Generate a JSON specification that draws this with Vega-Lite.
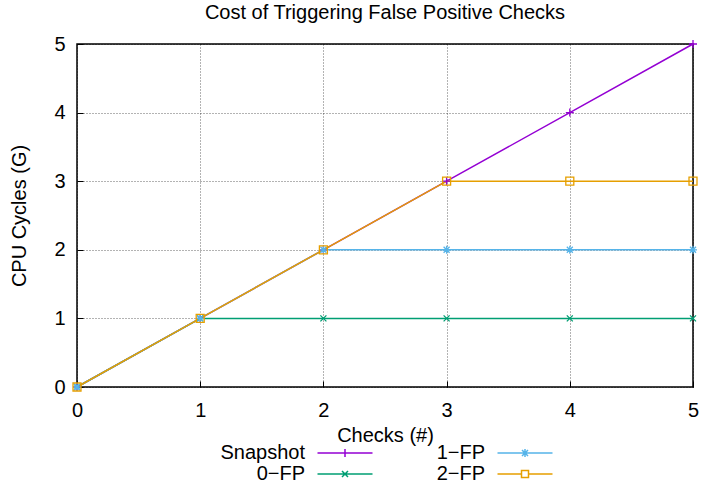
{
  "$schema": "https://vega.github.io/schema/vega-lite/v6.json",
  "width": 616,
  "height": 343,
  "autosize": {"type": "none"},
  "padding": {"left": 77, "top": 44, "right": 24, "bottom": 97},
  "background": "white",
  "title": {"text": "Cost of Triggering False Positive Checks", "fontSize": 20, "fontWeight": "normal", "font": "Liberation Sans", "offset": 11, "color": "#000"},
  "config": {
    "font": "Liberation Sans",
    "view": {"stroke": "#000", "strokeWidth": 1.5},
    "axis": {
      "domain": false,
      "grid": true,
      "gridDash": [1, 2],
      "gridColor": "#000",
      "gridOpacity": 0.6,
      "tickColor": "#000",
      "tickSize": -6,
      "tickWidth": 1,
      "labelFontSize": 20,
      "labelColor": "#000",
      "titleFontSize": 20,
      "titleFontWeight": "normal",
      "titleColor": "#000"
    }
  },
  "data": {"values": [
    {"x": 0, "y": 0, "series": "Snapshot"},
    {"x": 1, "y": 1, "series": "Snapshot"},
    {"x": 2, "y": 2, "series": "Snapshot"},
    {"x": 3, "y": 3, "series": "Snapshot"},
    {"x": 4, "y": 4, "series": "Snapshot"},
    {"x": 5, "y": 5, "series": "Snapshot"},
    {"x": 0, "y": 0, "series": "0-FP"},
    {"x": 1, "y": 1, "series": "0-FP"},
    {"x": 2, "y": 1, "series": "0-FP"},
    {"x": 3, "y": 1, "series": "0-FP"},
    {"x": 4, "y": 1, "series": "0-FP"},
    {"x": 5, "y": 1, "series": "0-FP"},
    {"x": 0, "y": 0, "series": "1-FP"},
    {"x": 1, "y": 1, "series": "1-FP"},
    {"x": 2, "y": 2, "series": "1-FP"},
    {"x": 3, "y": 2, "series": "1-FP"},
    {"x": 4, "y": 2, "series": "1-FP"},
    {"x": 5, "y": 2, "series": "1-FP"},
    {"x": 0, "y": 0, "series": "2-FP"},
    {"x": 1, "y": 1, "series": "2-FP"},
    {"x": 2, "y": 2, "series": "2-FP"},
    {"x": 3, "y": 3, "series": "2-FP"},
    {"x": 4, "y": 3, "series": "2-FP"},
    {"x": 5, "y": 3, "series": "2-FP"}
  ]},
  "encoding": {
    "x": {"field": "x", "type": "quantitative", "scale": {"domain": [0, 5], "nice": false},
      "axis": {"title": "Checks (#)", "values": [0, 1, 2, 3, 4, 5], "labelPadding": 19, "titlePadding": 5, "labelFlush": false}},
    "y": {"field": "y", "type": "quantitative", "scale": {"domain": [0, 5], "nice": false},
      "axis": {"title": "CPU Cycles (G)", "values": [0, 1, 2, 3, 4, 5], "labelPadding": 18, "titlePadding": 24, "labelFlush": false}},
    "color": {"field": "series", "type": "nominal",
      "scale": {"domain": ["Snapshot", "0-FP", "1-FP", "2-FP"], "range": ["#9400d3", "#009e73", "#56b4e9", "#e69f00"]},
      "legend": {
        "title": null,
        "orient": "none",
        "legendX": 257,
        "legendY": 398,
        "columns": 2,
        "columnPadding": 60,
        "rowPadding": 0,
        "padding": 0,
        "labelFontSize": 20,
        "labelColor": "#000",
        "labelAlign": "right",
        "labelOffset": -51,
        "labelExpr": "replace(datum.label, '-', '−')",
        "symbolSize": 400,
        "symbolStrokeWidth": 1.5,
        "encode": {
          "symbols": {"update": {
            "fill": {"value": "transparent"},
            "shape": {"signal": "datum.value === 'Snapshot' ? 'M-2.75,0L2.75,0M0,-0.4L0,0.4' : datum.value === '0-FP' ? 'M-2.75,0L2.75,0M-0.3,-0.3L0.3,0.3M-0.3,0.3L0.3,-0.3' : datum.value === '1-FP' ? 'M-2.75,0L2.75,0M0,-0.4L0,0.4M-0.3,-0.3L0.3,0.3M-0.3,0.3L0.3,-0.3' : 'M-2.75,0L-0.35,0M0.35,0L2.75,0M-0.35,-0.35L0.35,-0.35L0.35,0.35L-0.35,0.35Z'"}
          }}
        }
      }
    }
  },
  "layer": [
    {"mark": {"type": "line", "strokeWidth": 1.5}},
    {"transform": [{"filter": "datum.series === 'Snapshot'"}],
      "mark": {"type": "point", "filled": false, "strokeWidth": 1.3, "size": 64, "opacity": 1, "shape": "M-1,0L1,0M0,-1L0,1"}},
    {"transform": [{"filter": "datum.series === '0-FP'"}],
      "mark": {"type": "point", "filled": false, "strokeWidth": 1.3, "size": 64, "opacity": 1, "shape": "M-0.75,-0.75L0.75,0.75M-0.75,0.75L0.75,-0.75"}},
    {"transform": [{"filter": "datum.series === '1-FP'"}],
      "mark": {"type": "point", "filled": false, "strokeWidth": 1.3, "size": 64, "opacity": 1, "shape": "M-1,0L1,0M0,-1L0,1M-0.75,-0.75L0.75,0.75M-0.75,0.75L0.75,-0.75"}},
    {"transform": [{"filter": "datum.series === '2-FP'"}],
      "mark": {"type": "point", "filled": false, "strokeWidth": 1.3, "size": 64, "opacity": 1, "shape": "M-1,-1L1,-1L1,1L-1,1Z"}}
  ]
}
